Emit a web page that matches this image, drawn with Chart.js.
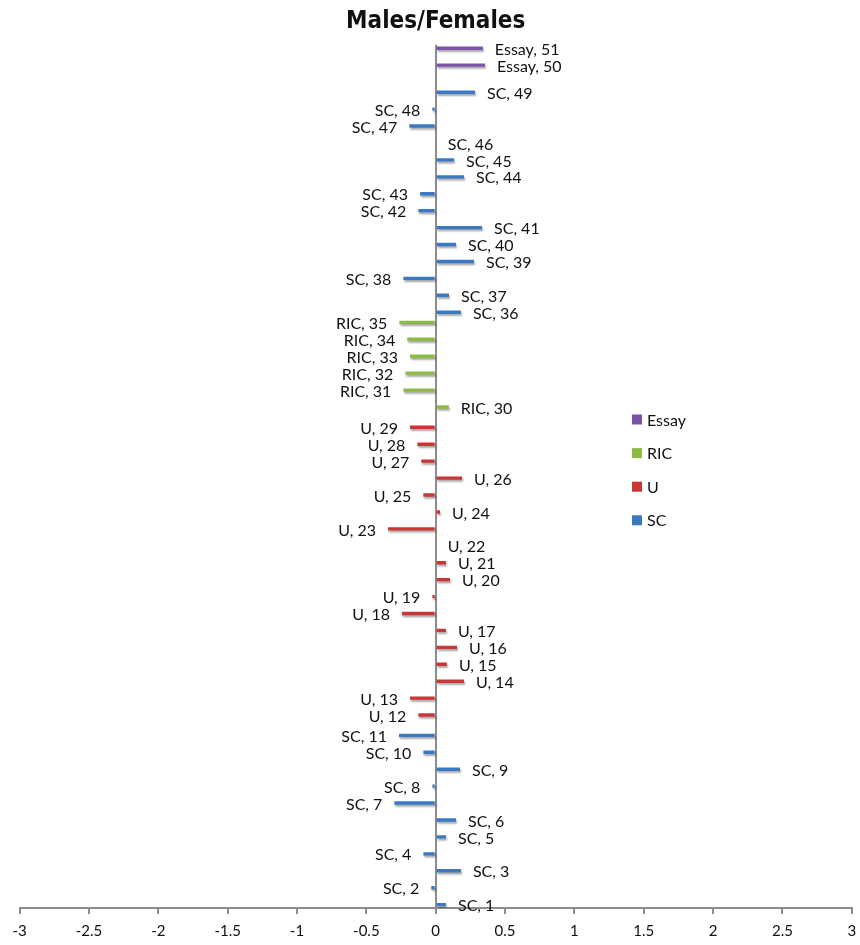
<!DOCTYPE html>
<html>
<head>
<meta charset="utf-8">
<script src="https://cdn.jsdelivr.net/npm/chart.js@4/dist/chart.umd.min.js"></script>
<style>
  html, body { margin: 0; padding: 0; background: #fff; }
  #wrap { width: 860px; height: 945px; position: relative; }
</style>
</head>
<body>
<div id="wrap"><canvas id="chart"></canvas></div>
<script>
// item numbers, bottom to top
const categories = [1, 2, 3, 4, 5, 6, 7, 8, 9, 10, 11, 12, 13, 14, 15, 16, 17, 18, 19, 20,
  21, 22, 23, 24, 25, 26, 27, 28, 29, 30, 31, 32, 33, 34, 35, 36, 37, 38, 39, 40,
  41, 42, 43, 44, 45, 46, 47, 48, 49, 50, 51];

// item type for each category
const itemTypes = [
  "SC", "SC", "SC", "SC", "SC", "SC", "SC", "SC", "SC", "SC", "SC",
  "U", "U", "U", "U", "U", "U", "U", "U", "U", "U", "U", "U", "U", "U", "U", "U", "U", "U",
  "RIC", "RIC", "RIC", "RIC", "RIC", "RIC",
  "SC", "SC", "SC", "SC", "SC", "SC", "SC", "SC", "SC", "SC", "SC", "SC", "SC", "SC",
  "Essay", "Essay"
];

// difference males/females per item
const itemValues = [
  0.074, -0.032, 0.182, -0.089, 0.074, 0.146, -0.298, -0.024, 0.175, -0.089, -0.265,
  -0.125, -0.185, 0.204, 0.081, 0.154, 0.074, -0.243, -0.024, 0.103, 0.074, 0, -0.344,
  0.031, -0.089, 0.19, -0.104, -0.132, -0.185,
  0.094, -0.233, -0.219, -0.185, -0.205, -0.262,
  0.182, 0.096, -0.233, 0.276, 0.146, 0.334, -0.125, -0.113, 0.204, 0.132, 0, -0.19,
  -0.024, 0.283,
  0.355, 0.34
];

// legend / cluster order (top to bottom)
const seriesNames = ["Essay", "RIC", "U", "SC"];
const seriesColors = ["#7b52a6", "#8dba43", "#c83636", "#3a78c2"];

const xTicks = [-3, -2.5, -2, -1.5, -1, -0.5, 0, 0.5, 1, 1.5, 2, 2.5, 3];

const AXIS_GREY = "#8c8c8c";
const LABEL_FONT = "16px Lato, 'Open Sans', sans-serif";

const datasets = seriesNames.map((name, s) => ({
  label: name,
  data: itemValues.map((v, i) => (itemTypes[i] === name ? v : null)),
  backgroundColor: seriesColors[s],
  borderWidth: 0,
  categoryPercentage: 0.8,
  barPercentage: 1.0
}));

const barLabels = {
  id: "barLabels",
  beforeDatasetsDraw(chart) {
    const ctx = chart.ctx;
    ctx.save();
    ctx.shadowColor = "rgba(0,0,0,0.35)";
    ctx.shadowOffsetX = 1;
    ctx.shadowOffsetY = 2;
    ctx.shadowBlur = 2;
  },
  afterDatasetsDraw(chart) {
    const ctx = chart.ctx;
    ctx.restore();
    ctx.save();
    ctx.font = LABEL_FONT;
    ctx.fillStyle = "#111";
    ctx.textBaseline = "middle";
    chart.data.datasets.forEach((ds, d) => {
      const meta = chart.getDatasetMeta(d);
      meta.data.forEach((bar, i) => {
        const v = ds.data[i];
        if (v === null || v === undefined) return;
        const txt = ds.label + ", " + categories[i];
        if (v >= 0) {
          ctx.textAlign = "left";
          ctx.fillText(txt, Math.max(bar.x, bar.base) + 12, bar.y + 1.5);
        } else {
          ctx.textAlign = "right";
          ctx.fillText(txt, Math.min(bar.x, bar.base) - 12, bar.y + 1.5);
        }
      });
    });
    ctx.restore();
  },
  afterDraw(chart) {
    // legend floating at the right of the plot
    const ctx = chart.ctx;
    ctx.save();
    ctx.font = LABEL_FONT;
    ctx.textBaseline = "middle";
    ctx.textAlign = "left";
    seriesNames.forEach((name, s) => {
      const y = 420 + s * 33.6;
      ctx.fillStyle = seriesColors[s];
      ctx.fillRect(632, y - 5.5, 10, 10);
      ctx.fillStyle = "#111";
      ctx.fillText(name, 647, y + 0.5);
    });
    ctx.restore();
  }
};

new Chart(document.getElementById("chart"), {
  type: "bar",
  data: { labels: categories.map(String), datasets },
  plugins: [barLabels],
  options: {
    indexAxis: "y",
    responsive: true,
    maintainAspectRatio: false,
    animation: false,
    layout: { padding: { left: 19.6, right: 8.2, top: 0, bottom: 6 } },
    plugins: {
      legend: { display: false },
      tooltip: { enabled: false },
      title: {
        display: true,
        text: "Males/Females",
        color: "#111",
        font: { family: "'Liberation Sans Narrow', 'DejaVu Sans Condensed', sans-serif", size: 24, weight: "bold" },
        padding: { top: 7, bottom: 9 }
      }
    },
    scales: {
      y: {
        type: "category",
        reverse: true,
        display: false
      },
      x: {
        type: "linear",
        min: -3,
        max: 3,
        afterBuildTicks: (scale) => { scale.ticks = xTicks.map((value) => ({ value })); },
        afterFit: (scale) => {
          scale.height = 31;
          scale.paddingLeft = 0;
          scale.paddingRight = 0;
        },
        grid: {
          color: (c) => (c.tick && c.tick.value === 0 ? AXIS_GREY : "rgba(0,0,0,0)"),
          lineWidth: 2,
          tickColor: AXIS_GREY,
          tickWidth: 2,
          tickLength: 6
        },
        border: { color: AXIS_GREY, width: 2 },
        ticks: {
          color: "#111",
          padding: 8,
          font: { family: "Lato, 'Open Sans', sans-serif", size: 15 },
          callback: (v) => String(v)
        }
      }
    }
  }
});
</script>
</body>
</html>
